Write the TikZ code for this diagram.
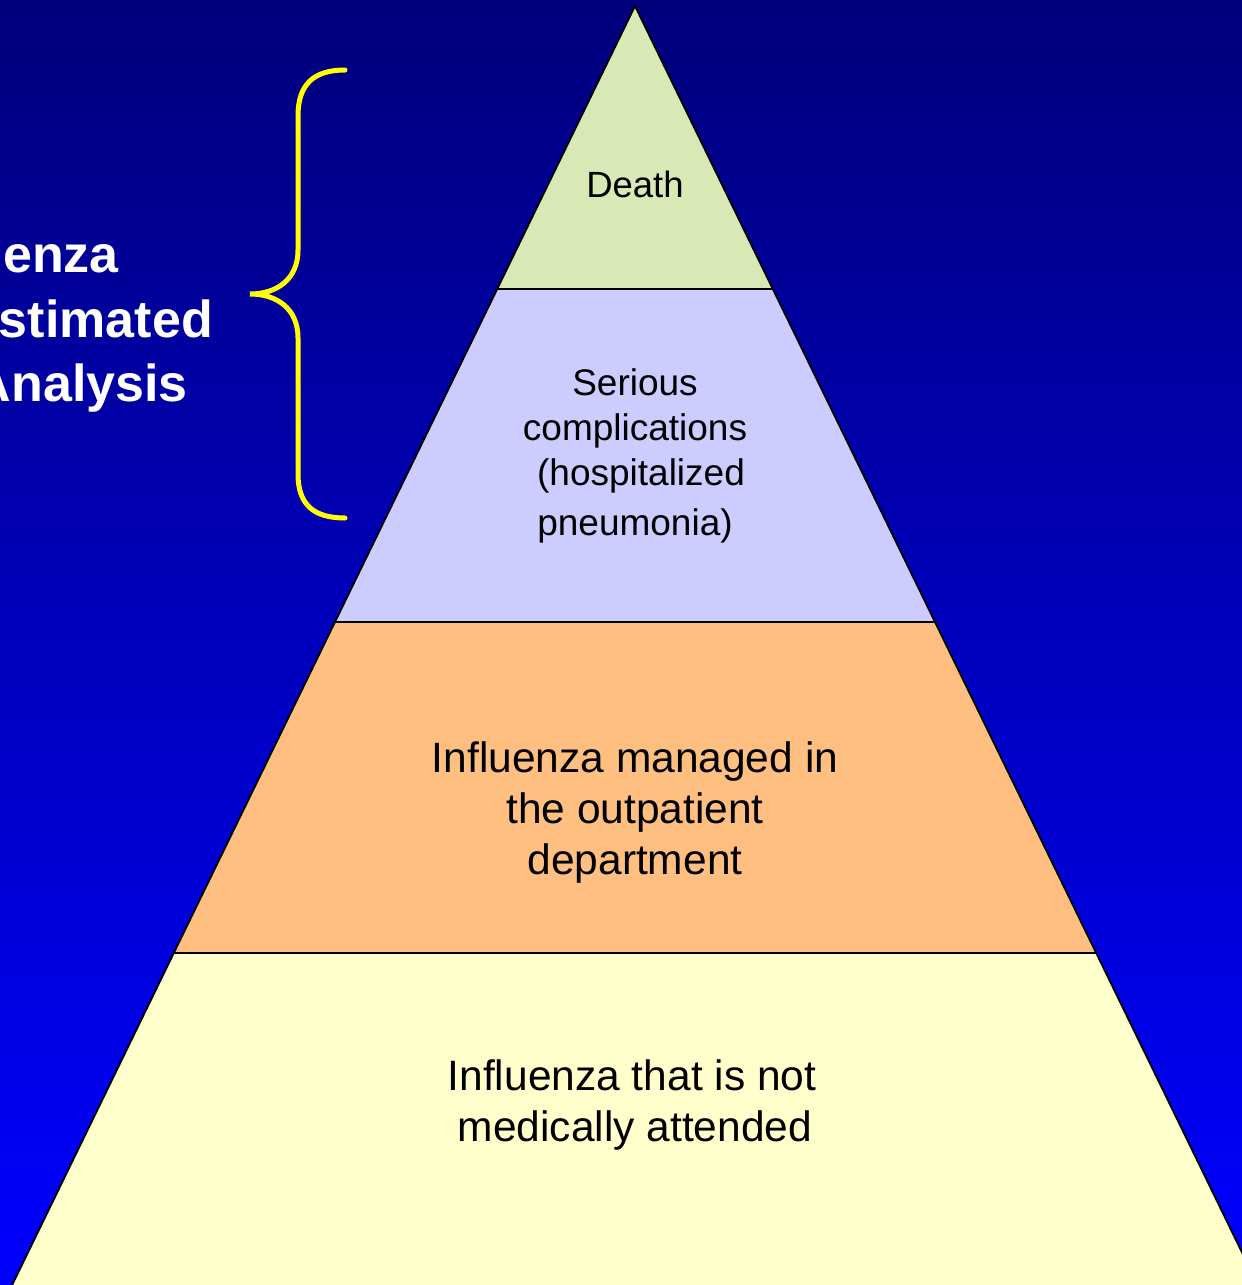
\documentclass[tikz,border=0pt]{standalone}
\usepackage{fontspec}
\setmainfont{Liberation Sans}

\definecolor{skytop}{HTML}{00007C}
\definecolor{skybottom}{HTML}{0000FF}
\definecolor{deathgreen}{HTML}{D8E9B6}
\definecolor{seriouslilac}{HTML}{CCCCFF}
\definecolor{outpatorange}{HTML}{FFBF80}
\definecolor{homeyellow}{HTML}{FFFFCC}
\definecolor{braceyellow}{HTML}{FFFF00}

\begin{document}
\begin{tikzpicture}[
    x=1pt, y=-1pt,
    tier/.style={
      draw=black,
      line width=1.8pt,
      line join=miter
    },
    tiertext/.style={
      align=center,
      inner sep=0pt,
      text=black
    },
    sidetext/.style={
      text=white,
      inner sep=0pt,
      anchor=base east,
      font=\fontsize{52}{64}\selectfont\bfseries
    },
    bracket/.style={
      draw=braceyellow,
      line width=5pt,
      line cap=round
    }
  ]
    \useasboundingbox (0,0) rectangle (1242,1285);
    \clip (0,0) rectangle (1242,1285);
    \shade[top color=skytop, bottom color=skybottom] (0,0) rectangle (1242,1285);

    \coordinate (top) at (635,6);
    \coordinate (l1) at (497.2,289);  \coordinate (r1) at (772.8,289);
    \coordinate (l2) at (335,622);    \coordinate (r2) at (935,622);
    \coordinate (l3) at (173.8,953);  \coordinate (r3) at (1096.2,953);
    \coordinate (l4) at (9.7,1290);   \coordinate (r4) at (1260.3,1290);

    \draw[tier, fill=homeyellow] (l3) -- (r3) -- (r4) -- (l4) -- cycle;
    \draw[tier, fill=outpatorange] (l2) -- (r2) -- (r3) -- (l3) -- cycle;
    \draw[tier, fill=seriouslilac] (l1) -- (r1) -- (r2) -- (l2) -- cycle;
    \draw[tier, fill=deathgreen] (top) -- (r1) -- (l1) -- cycle;

    \node[tiertext, font=\fontsize{36.5}{45}\selectfont] (death) at (635,184) {Death};
    \node[tiertext, font=\fontsize{37}{45}\selectfont] (serious) at (635,456)
      {Serious\\complications\\\hspace{12pt}(hospitalized\\[5pt]pneumonia)};
    \node[tiertext, font=\fontsize{42.5}{51}\selectfont] (outpat) at (635,813)
      {Influenza managed in\\the outpatient\\department};
    \node[tiertext, font=\fontsize{42.5}{51}\selectfont] (home) at (632,1105)
      {Influenza that is not\\\hspace{6pt}medically attended};

    \node[sidetext] (side1) at (119,272) {enza};
    \node[sidetext] (side2) at (213,337) {stimated};
    \node[sidetext] (side3) at (188,401) {Analysis};

    \draw[bracket] (345,70) .. controls (314,70) and (298,84) .. (298,116)
      -- (298,250) .. controls (298,280) and (276,294) .. (250,294)
      .. controls (276,294) and (298,308) .. (298,338)
      -- (298,474) .. controls (298,505) and (314,518) .. (345,518);
  \end{tikzpicture}
\end{document}
